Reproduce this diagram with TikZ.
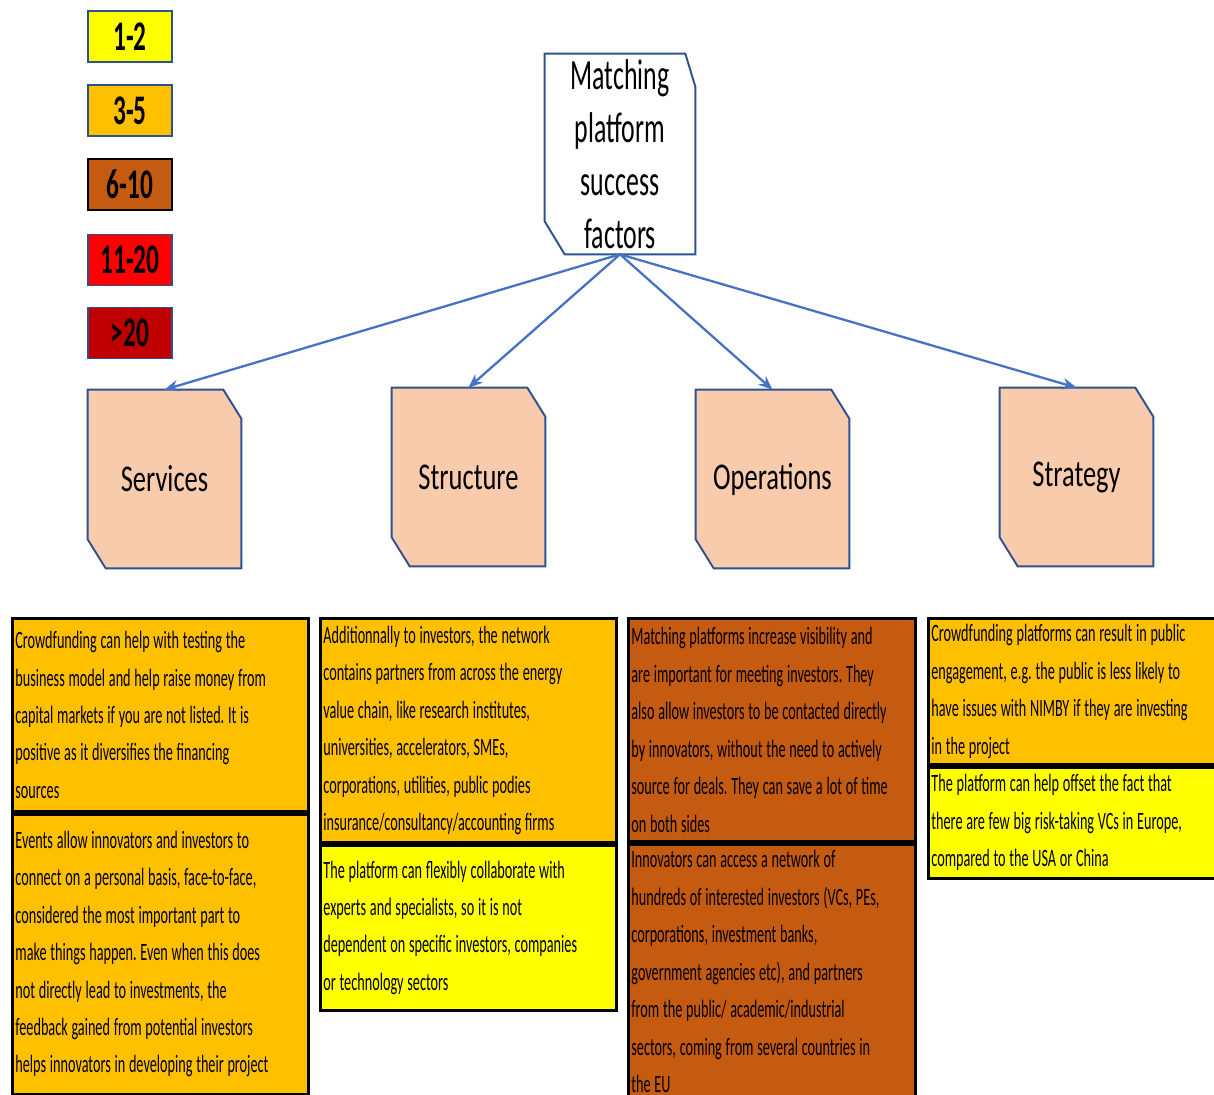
\documentclass[tikz,border=0pt]{standalone}
\usepackage{fontspec}
\setmainfont{Carlito}
\newfontfamily\headfont{Carlito}[FakeStretch=0.6]
\newfontfamily\bodyfont{Carlito}[FakeStretch=0.57]
\newfontfamily\catfont{Carlito}[FakeStretch=0.7]
\usepackage{tikz}
\usetikzlibrary{arrows.meta,calc,positioning,backgrounds}
\definecolor{frameBlue}{HTML}{2F528F}
\definecolor{linkBlue}{HTML}{4472C4}
\definecolor{catFill}{HTML}{F8CBAD}
\definecolor{lgYel}{HTML}{FFFF00}
\definecolor{lgOrg}{HTML}{FFC000}
\definecolor{lgBrn}{HTML}{C55A11}
\definecolor{lgRed}{HTML}{FF0000}
\definecolor{lgDkr}{HTML}{C00000}
\newcommand{\bodytxt}{\bodyfont\fontsize{14.2}{21.3}\selectfont}
\newcommand{\tightspace}{\frenchspacing\spaceskip=0.15em plus 0.02em\xspaceskip=0.15em\relax}
% outline with two snipped corners (top right, bottom left), drawn behind the node
\newcommand{\snipframe}[5]{%
  \begin{scope}[on background layer]
    \draw[snipline, fill=#2] (#1.north west) -- ($(#1.north east)+(-#3,0)$)
      -- ($(#1.north east)+(0,#5)$) -- (#1.south east)
      -- ($(#1.south west)+(#4,0)$) -- ($(#1.south west)+(0,-#5)$) -- cycle;
  \end{scope}}
\tikzset{
  legbox/.style={draw, line width=1pt, minimum width=1.68cm, minimum height=1.02cm,
                 inner sep=0pt, font=\headfont\bfseries\fontsize{24}{26}\selectfont},
  topnode/.style={minimum width=3cm, minimum height=4cm, inner sep=0pt, align=center,
                  font=\headfont\fontsize{24.5}{30.2}\selectfont},
  catnode/.style={minimum width=3.06cm, minimum height=3.56cm, inner sep=0pt,
                  font=\catfont\fontsize{21.5}{25}\selectfont},
  snipline/.style={draw=frameBlue, line width=1.1pt, line join=miter},
  link/.style={-{Stealth[length=8pt,width=6.5pt]}, draw=linkBlue, line width=1.3pt},
  txtbox/.style={draw=black, line width=1.6pt, inner xsep=0.06cm, inner ysep=0pt,
                 align=left, font=\bodytxt, execute at begin node=\tightspace},
}
\begin{document}
\begin{tikzpicture}[x=0.02cm, y=-0.02cm, node distance=0pt]
  \clip (0,0) rectangle (1214,1095);

  % legend
  \foreach \i/\yy/\fc/\ec/\lbl in {1/36.5/lgYel/frameBlue/1-2, 2/110.5/lgOrg/frameBlue/3-5,
      3/184.5/lgBrn/black/6-10, 4/260/lgRed/frameBlue/11-20, 5/333/lgDkr/frameBlue/{>20}}
    \node[legbox, fill=\fc, draw=\ec] (lg\i) at (130,\yy) {\lbl};

  % tree
  \node[topnode] (top) at (620,154) {Matching\\platform\\success\\factors};
  \snipframe{top}{white}{10}{20}{33}
  \node[catnode] (svc) at (164.5,479) {Services};
  \node[catnode] (str) at (468.5,477) {Structure};
  \node[catnode] (ops) at (772.5,479) {Operations};
  \node[catnode] (stg) at (1076.5,477) {Strategy};
  \foreach \c in {svc,str,ops,stg}{\snipframe{\c}{catFill}{18}{18}{29}}
  \foreach \c in {svc,str,ops,stg}{\draw[link] (top.south) -- (\c.north);}

  % services
  \node[txtbox, fill=lgOrg, anchor=north west, text width=5.8cm, minimum height=3.86cm] (svc1) at (11,617)
    {Crowdfunding can help with testing the\\business model and help raise money from\\capital markets if you are not listed. It is\\positive as it diversifies the financing\\sources};
  \node[txtbox, fill=lgOrg, text width=5.8cm, minimum height=5.6cm, below=of svc1] (svc2)
    {Events allow innovators and investors to\\connect on a personal basis, face-to-face,\\considered the most important part to\\make things happen. Even when this does\\not directly lead to investments, the\\feedback gained from potential investors\\helps innovators in developing their project};

  % structure
  \node[txtbox, fill=lgOrg, anchor=north west, text width=5.8cm, minimum height=4.48cm] (str1) at (319,617)
    {Additionnally to investors, the network\\contains partners from across the energy\\value chain, like research institutes,\\universities, accelerators, SMEs,\\corporations, utilities, public podies\\insurance/consultancy/accounting firms};
  \node[txtbox, fill=lgYel, text width=5.8cm, minimum height=3.3cm, below=of str1] (str2)
    {The platform can flexibly collaborate with\\experts and specialists, so it is not\\dependent on specific investors, companies\\or technology sectors};

  % operations
  \node[txtbox, fill=lgBrn, anchor=north west, text width=5.62cm, minimum height=4.46cm] (ops1) at (627,617)
    {Matching platforms increase visibility and\\are important for meeting investors. They\\also allow investors to be contacted directly\\by innovators, without the need to actively\\source for deals. They can save a lot of time\\on both sides};
  \node[txtbox, fill=lgBrn, text width=5.62cm, minimum height=5.1cm, below=of ops1] (ops2)
    {Innovators can access a network of\\hundreds of interested investors (VCs, PEs,\\corporations, investment banks,\\government agencies etc), and partners\\from the public/ academic/industrial\\sectors, coming from several countries in\\the EU};

  % strategy
  \node[txtbox, fill=lgOrg, anchor=north west, text width=5.64cm, minimum height=2.92cm] (stg1) at (927,617)
    {Crowdfunding platforms can result in public\\engagement, e.g. the public is less likely to\\have issues with NIMBY if they are investing\\in the project};
  \node[txtbox, fill=lgYel, text width=5.64cm, minimum height=2.22cm, below=of stg1] (stg2)
    {The platform can help offset the fact that\\there are few big risk-taking VCs in Europe,\\compared to the USA or China};
\end{tikzpicture}
\end{document}
